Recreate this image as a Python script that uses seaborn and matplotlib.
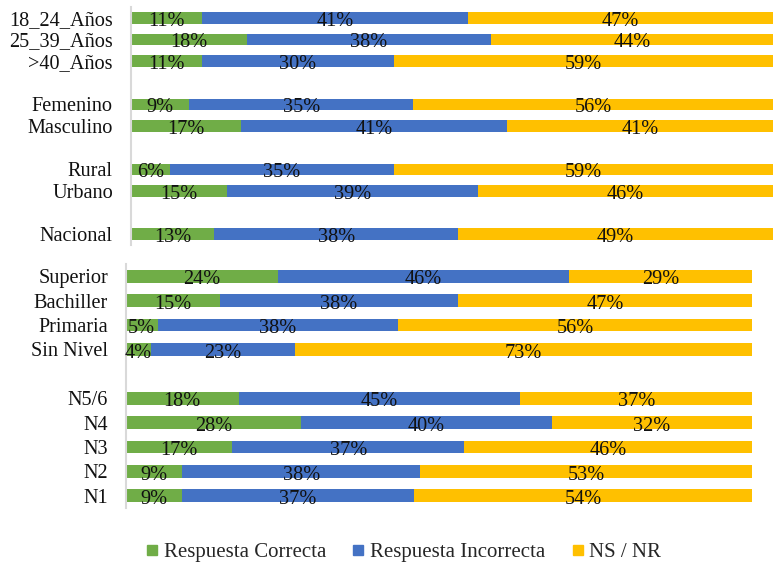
import matplotlib
matplotlib.use("Agg")
import matplotlib.pyplot as plt
import seaborn as sns
import pandas as pd
from matplotlib.lines import Line2D

# ---- data ----
series_names = ["Respuesta Correcta", "Respuesta Incorrecta", "NS / NR"]
series_colors = ["#70AD47", "#4472C4", "#FFC000"]

top_groups = ["18_24_Años", "25_39_Años", ">40_Años", "Femenino", "Masculino",
              "Rural", "Urbano", "Nacional"]
top_correct = [11, 18, 11, 9, 17, 6, 15, 13]
top_incorrect = [41, 38, 30, 35, 41, 35, 39, 38]
top_nsnr = [47, 44, 59, 56, 41, 59, 46, 49]
top_order = ["18_24_Años", "25_39_Años", ">40_Años", " ", "Femenino", "Masculino",
             "  ", "Rural", "Urbano", "   ", "Nacional"]

bot_groups = ["Superior", "Bachiller", "Primaria", "Sin Nivel",
              "N5/6", "N4", "N3", "N2", "N1"]
bot_correct = [24, 15, 5, 4, 18, 28, 17, 9, 9]
bot_incorrect = [46, 38, 38, 23, 45, 40, 37, 38, 37]
bot_nsnr = [29, 47, 56, 73, 37, 32, 46, 53, 54]
bot_order = ["Superior", "Bachiller", "Primaria", "Sin Nivel", " ",
             "N5/6", "N4", "N3", "N2", "N1"]

sns.set_style("white")
plt.rcParams["font.family"] = ["Liberation Serif", "DejaVu Serif"]

FS = 14.6
fig = plt.figure(figsize=(7.73, 5.65), dpi=100)
ax_top = fig.add_axes([131 / 773, 1 - 245 / 565, (773 - 131) / 773, 238 / 565])
ax_bot = fig.add_axes([126 / 773, 1 - 508 / 565, (752 - 126) / 773, 244 / 565])


def draw(ax, groups, correct, incorrect, nsnr, order):
    df = pd.DataFrame({"group": groups, "c": correct, "i": incorrect, "n": nsnr})
    tot = df["c"] + df["i"] + df["n"]
    df["pc"] = df["c"] / tot * 100
    df["pi"] = df["i"] / tot * 100
    df["pn"] = df["n"] / tot * 100
    df["cum1"] = df["pc"]
    df["cum2"] = df["pc"] + df["pi"]
    df["cum3"] = df["cum2"] + df["pn"]
    for col, color in zip(["cum3", "cum2", "cum1"], series_colors[::-1]):
        sns.barplot(data=df, x=col, y="group", order=order, orient="h",
                    color=color, saturation=1, width=0.53, errorbar=None,
                    linewidth=0, ax=ax)
    for _, r in df.iterrows():
        ypos = order.index(r["group"])
        starts = [0, r["cum1"], r["cum2"]]
        widths = [r["pc"], r["pi"], r["pn"]]
        vals = [r["c"], r["i"], r["n"]]
        for s, w, v in zip(starts, widths, vals):
            ax.text(s + w / 2, ypos + 0.15, f"{v}%", ha="center", va="center",
                    fontsize=FS, color="#111111")
    ax.set_xlim(0, 100)
    ax.set_ylim(len(order) - 0.5, -0.5)
    ax.set_xlabel("")
    ax.set_ylabel("")
    ax.set_xticks([])
    for sp in ["top", "right", "bottom"]:
        ax.spines[sp].set_visible(False)
    ax.spines["left"].set_color("#d9d9d9")
    ax.spines["left"].set_linewidth(1.5)
    ax.tick_params(axis="y", length=0, pad=13, labelsize=FS, labelcolor="#111111")


draw(ax_top, top_groups, top_correct, top_incorrect, top_nsnr, top_order)
draw(ax_bot, bot_groups, bot_correct, bot_incorrect, bot_nsnr, bot_order)

handles = [Line2D([], [], marker="s", linestyle="", color=c, markersize=7)
           for c in series_colors]
fig.legend(handles, series_names, loc="center", bbox_to_anchor=(404 / 773, 1 - 552 / 565),
           ncol=3, frameon=False, fontsize=15, handlelength=0.5, handletextpad=0.3,
           columnspacing=1.3)

fig.savefig("out.png", dpi=100)
